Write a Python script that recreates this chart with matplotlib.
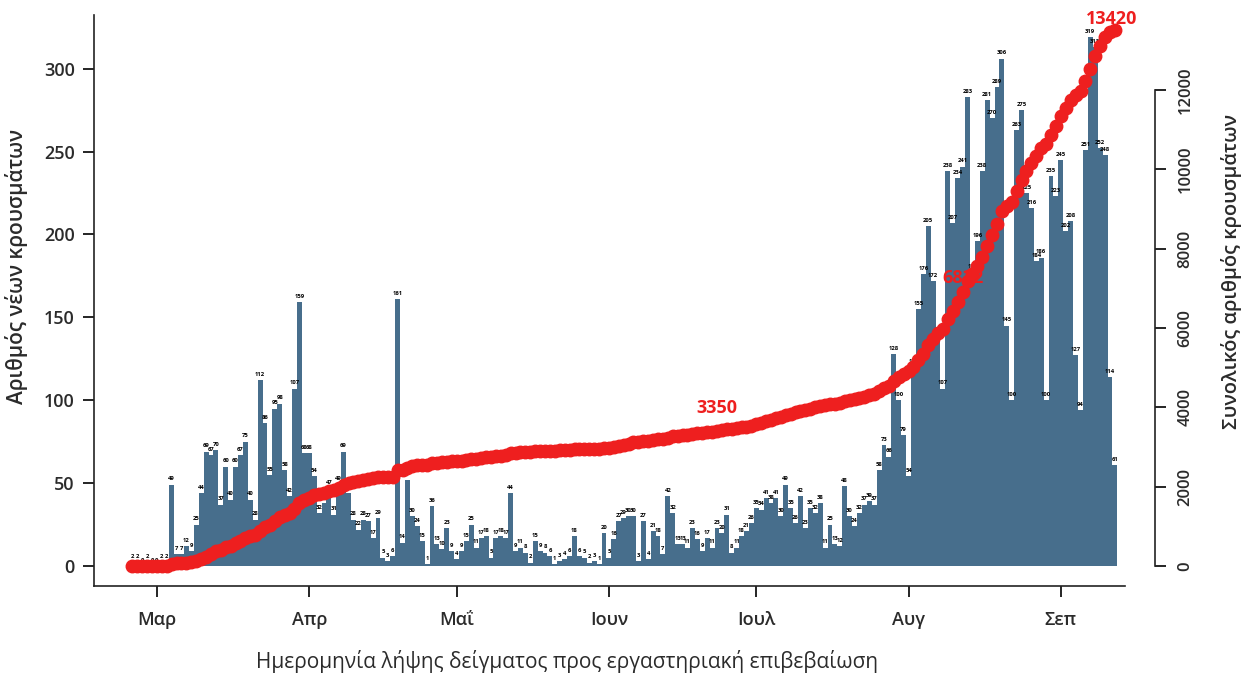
import numpy as np
import pandas as pd
import matplotlib
matplotlib.use("Agg")
import matplotlib.pyplot as plt

plt.rcParams["font.family"] = ["Open Sans", "DejaVu Sans"]

# daily new cases by sample date, starting 25 Feb 2020
start_date = "2020-02-25"
new_cases = [
    2, 2, 0, 2, 0, 0, 2, 2,
    49, 7, 7, 12, 9, 25, 44,
    69, 67, 70, 37, 60, 40, 60, 67, 75, 40, 28,
    112, 86, 55, 95, 98, 58, 42, 107, 159,
    68, 68, 54, 32, 38, 47, 31, 49, 69, 44,
    28, 22, 28, 27, 17, 29, 5, 3, 6,
    161, 14, 52, 30, 24, 15, 1, 36, 13, 10, 23, 9, 4,
    9, 15, 25, 11, 17, 18, 5, 17, 18, 17, 44, 9, 11, 8, 2, 15, 9, 8, 6, 1,
    3, 4, 6, 18, 6, 5, 2, 3, 1, 20,
    5, 16, 27, 29, 30, 30, 3, 27, 4, 21, 18, 7, 42, 32, 13, 13, 11, 23, 16, 9,
    17, 11, 23, 20, 31, 8, 11, 18, 21, 26,
    35, 34, 41, 38, 41, 30, 49, 35, 26, 42, 23, 35, 32, 38, 11, 25, 13, 12, 48, 30,
    24, 32, 37, 39, 37, 58, 73, 66, 128, 100, 79, 54,
    120, 155, 176, 205, 172, 138, 107, 238, 207, 234, 241, 283, 177, 196, 238, 281,
    270, 289, 306, 145, 100,
    263, 275, 225, 216, 184, 186, 100, 235, 223, 245, 202, 208, 127, 94, 251, 319,
    313, 252, 248, 114, 61,
]
month_names = ["Μαρ", "Απρ", "Μαΐ", "Ιουν", "Ιουλ", "Αυγ", "Σεπ"]
# highlighted points on the cumulative curve
note_days = [119, 169, 200]
note_texts = ["3350", "6822", "13420"]

bar_col = "#476e8c"
red = "#ee1f1f"
txt = "#2b2b2b"

dates = pd.date_range(start_date, periods=len(new_cases), freq="D")
x = np.arange(len(new_cases))
cum = np.cumsum(new_cases)
month_pos = x[dates.day == 1]

fig = plt.figure(figsize=(12.44, 6.75), dpi=100)
ax = fig.add_axes([0.0756, 0.132, 0.853, 0.846])

ax.bar(x, new_cases, width=1.0, color=bar_col, linewidth=0, zorder=2)
for xi, v in zip(x, new_cases):
    ax.text(xi, v + 2, str(v), ha="center", va="bottom", fontsize=4.2,
            fontweight="bold", color="black", zorder=3)

ax.set_xlim(-7.8, 208.2)
ax.set_ylim(-12, 332.5)
ax.set_yticks(np.arange(0, 301, 50))
ax.set_xticks(month_pos)
ax.set_xticklabels(month_names)
for s in ["top", "right"]:
    ax.spines[s].set_visible(False)
for s in ["left", "bottom"]:
    ax.spines[s].set_linewidth(1.2)
    ax.spines[s].set_color("#222222")
ax.spines["bottom"].set_bounds(-7.8, 202)
ax.tick_params(axis="y", length=8, width=1.2, pad=6, labelsize=13,
               labelcolor=txt)
ax.tick_params(axis="x", length=8, width=1.2, pad=10, labelsize=13,
               labelcolor=txt)
for lab in ax.get_xticklabels() + ax.get_yticklabels():
    lab.set_fontweight("semibold")
ax.set_ylabel("Αριθμός νέων κρουσμάτων", fontsize=15, color=txt,
              fontweight="semibold")
ax.yaxis.set_label_coords(-0.062, 0.56)
ax.set_xlabel("Ημερομηνία λήψης δείγματος προς εργαστηριακή επιβεβαίωση",
              fontsize=15, color=txt)
ax.xaxis.set_label_coords(0.446, -0.112)

ax2 = ax.twinx()
ax2.plot(x, cum, "o", ms=9, color=red, mec=red, zorder=5)
ax2.set_ylim(-504, 13896)
ax2.set_yticks(np.arange(0, 12001, 2000))
for s in ["top", "left", "bottom"]:
    ax2.spines[s].set_visible(False)
ax2.spines["right"].set_bounds(0, 12000)
ax2.spines["right"].set_linewidth(1.2)
ax2.spines["right"].set_color("#222222")
ax2.tick_params(axis="y", length=8, width=1.2, pad=8, labelsize=12,
                labelcolor=txt)
for lab in ax2.get_yticklabels():
    lab.set_rotation(90)
    lab.set_va("center")
    lab.set_fontweight("semibold")
ax2.set_ylabel("Συνολικός αριθμός κρουσμάτων", fontsize=14.5, color=txt,
               fontweight="semibold", rotation=90)
ax2.yaxis.set_label_coords(1.062, 0.55)

offsets = [(0, 10), (0, 4), (-2, 1)]
for d, t, off in zip(note_days, note_texts, offsets):
    ax2.annotate(t, (d, cum[d]), xytext=off, textcoords="offset points",
                 ha="center", va="bottom", color=red, fontsize=13,
                 fontweight="bold", zorder=4)

fig.savefig("out.png", dpi=100)
